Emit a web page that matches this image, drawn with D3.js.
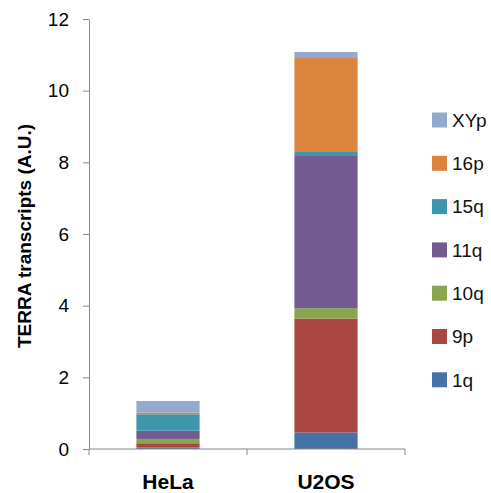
<!DOCTYPE html>
<html>
<head>
<meta charset="utf-8">
<script src="https://cdn.jsdelivr.net/npm/d3@7"></script>
<style>
  html, body { margin: 0; padding: 0; background: #fff; }
  svg { display: block; }
</style>
</head>
<body>
<svg id="chart" width="491" height="493"></svg>
<script>
// Cell lines on the x axis
const categories = ["HeLa", "U2OS"];
// Chromosome-end series, stacked from bottom to top
const seriesNames = ["1q", "9p", "10q", "11q", "15q", "16p", "XYp"];
const helaValues = [0.04, 0.12, 0.12, 0.23, 0.46, 0.05, 0.32];
const u2osValues = [0.46, 3.18, 0.29, 4.27, 0.11, 2.60, 0.17];
const seriesColors = ["#4572a7", "#aa4643", "#89a54e", "#735b91", "#3d96ae", "#db843d", "#93a9cf"];
const yTicks = [0, 2, 4, 6, 8, 10, 12];

const svg = d3.select("#chart");
const axisColor = "#898989";

// Plot area
const plotLeft = 89, plotRight = 405, plotTop = 19, plotBottom = 449;

const x = d3.scaleBand().domain(categories).range([plotLeft, plotRight]).padding(0);
const y = d3.scaleLinear().domain([0, 12]).range([plotBottom, plotTop]);

// Build rows for the stack
const rows = categories.map((c, i) => {
  const vals = i === 0 ? helaValues : u2osValues;
  const row = { category: c };
  seriesNames.forEach((s, j) => { row[s] = vals[j]; });
  return row;
});
const stacked = d3.stack().keys(seriesNames)(rows);
const color = d3.scaleOrdinal().domain(seriesNames).range(seriesColors);

const barWidth = x.bandwidth() * 0.4;

// Bars
svg.append("g")
  .selectAll("g")
  .data(stacked)
  .join("g")
  .attr("fill", d => color(d.key))
  .selectAll("rect")
  .data(d => d)
  .join("rect")
  .attr("x", d => x(d.data.category) + (x.bandwidth() - barWidth) / 2)
  .attr("width", barWidth)
  .attr("y", d => y(d[1]))
  .attr("height", d => y(d[0]) - y(d[1]));

// Y axis
const yAxis = svg.append("g")
  .attr("transform", `translate(${plotLeft},0)`)
  .call(d3.axisLeft(y).tickValues(yTicks).tickSize(6).tickSizeOuter(0).tickPadding(14));
yAxis.select(".domain").attr("stroke", axisColor);
yAxis.selectAll(".tick line").attr("stroke", axisColor);
yAxis.selectAll(".tick text")
  .attr("fill", "#000")
  .style("font-family", "'Liberation Sans', Arial, sans-serif")
  .style("font-size", "19px");

// X axis line with category boundary ticks
svg.append("line")
  .attr("x1", plotLeft).attr("x2", plotRight)
  .attr("y1", plotBottom).attr("y2", plotBottom)
  .attr("stroke", axisColor);
const boundaries = categories.map(c => x(c)).concat([x.range()[1]]);
svg.append("g")
  .selectAll("line")
  .data(boundaries)
  .join("line")
  .attr("x1", d => d).attr("x2", d => d)
  .attr("y1", plotBottom).attr("y2", plotBottom + 6)
  .attr("stroke", axisColor);

// Category labels
svg.append("g")
  .selectAll("text")
  .data(categories)
  .join("text")
  .attr("x", d => x(d) + x.bandwidth() / 2)
  .attr("y", 489)
  .attr("text-anchor", "middle")
  .style("font-family", "'Liberation Sans', Arial, sans-serif")
  .style("font-weight", "bold")
  .style("font-size", "21px")
  .attr("fill", "#000")
  .text(d => d);

// Y axis title
svg.append("text")
  .attr("transform", "translate(24,236) rotate(-90)")
  .attr("text-anchor", "middle")
  .attr("dy", "0.36em")
  .style("font-family", "'Liberation Sans', Arial, sans-serif")
  .style("font-weight", "bold")
  .style("font-size", "19px")
  .attr("fill", "#000")
  .text("TERRA transcripts (A.U.)");

// Legend, top entry is the top of the stack
const legendItems = seriesNames.slice().reverse();
const legend = svg.append("g")
  .selectAll("g")
  .data(legendItems)
  .join("g")
  .attr("transform", (d, i) => `translate(432,${120 + i * 43.3})`);
legend.append("rect")
  .attr("x", 0).attr("y", -7.5)
  .attr("width", 15).attr("height", 15)
  .attr("fill", d => color(d));
legend.append("text")
  .attr("x", 20)
  .attr("dy", "0.36em")
  .style("font-family", "'Liberation Sans', Arial, sans-serif")
  .style("font-size", "19px")
  .attr("fill", "#111")
  .text(d => d);
</script>
</body>
</html>
